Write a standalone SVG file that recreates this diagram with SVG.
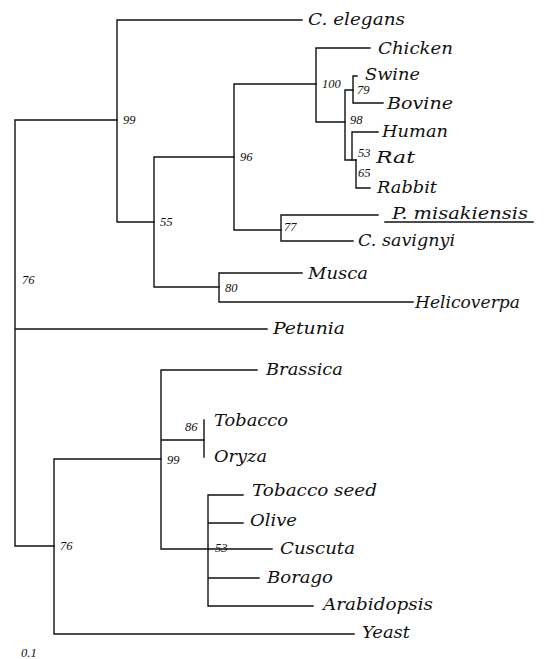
<svg xmlns="http://www.w3.org/2000/svg" width="546" height="659" viewBox="0 0 546 659">
<style>
.br{fill:none;stroke:#111;stroke-width:1.4;stroke-linecap:square}
.tx{font-family:"DejaVu Serif","Liberation Serif",serif;font-style:italic;font-size:17px;fill:#111}
.bs{font-family:"Liberation Serif","DejaVu Serif",serif;font-style:italic;font-size:12.5px;fill:#111}
</style>
<rect width="546" height="659" fill="#fff"/>
<g id="connectors" class="br">
<path d="M15,120V546M15,120H117M15,329H267M15,546H54"/>
<path d="M117,20V222M117,20H302M117,222H154"/>
<path d="M154,157V287M154,157H234M154,287H219"/>
<path d="M234,84V230M234,84H316M234,230H281"/>
<path d="M316,48V122M316,48H370M316,122H345"/>
<path d="M345,90V160M345,90H353M345,160H356"/>
<path d="M353,76V103M353,76H357M353,103H383"/>
<path d="M352,132V160M352,132H378"/>
<path d="M356,160V188M356,188H370"/>
<path d="M281,215V241M281,215H378M281,241H353"/>
<path d="M219,273V302M219,273H302M219,302H413"/>
<path d="M54,459V634M54,459H161M54,634H354"/>
<path d="M161,370V549M161,370H257M161,440H204M161,549H208"/>
<path d="M204,420V457"/>
<path d="M208,495V606M208,495H243M208,523H243M208,549H272M208,578H259M208,606H313"/>
</g>
<g id="c-elegans"><text class="tx" x="308" y="25" textLength="97" lengthAdjust="spacingAndGlyphs">C. elegans</text></g>
<g id="chicken"><text class="tx" x="378" y="54" textLength="75" lengthAdjust="spacingAndGlyphs">Chicken</text></g>
<g id="swine"><text class="tx" x="365" y="80" textLength="55" lengthAdjust="spacingAndGlyphs">Swine</text></g>
<g id="bovine"><text class="tx" x="387" y="109" textLength="66" lengthAdjust="spacingAndGlyphs">Bovine</text></g>
<g id="human"><text class="tx" x="382" y="137" textLength="66" lengthAdjust="spacingAndGlyphs">Human</text></g>
<g id="rat"><text class="tx" x="376" y="163" textLength="39" lengthAdjust="spacingAndGlyphs">Rat</text></g>
<g id="rabbit"><text class="tx" x="377" y="193" textLength="60" lengthAdjust="spacingAndGlyphs">Rabbit</text></g>
<g id="p-misakiensis"><text class="tx" x="392" y="219" textLength="136" lengthAdjust="spacingAndGlyphs">P. misakiensis</text><path class="br" d="M385,222H533"/></g>
<g id="c-savignyi"><text class="tx" x="358" y="246" textLength="97" lengthAdjust="spacingAndGlyphs">C. savignyi</text></g>
<g id="musca"><text class="tx" x="308" y="279" textLength="60" lengthAdjust="spacingAndGlyphs">Musca</text></g>
<g id="helicoverpa"><text class="tx" x="415" y="308" textLength="105" lengthAdjust="spacingAndGlyphs">Helicoverpa</text></g>
<g id="petunia"><text class="tx" x="273" y="334" textLength="72" lengthAdjust="spacingAndGlyphs">Petunia</text></g>
<g id="brassica"><text class="tx" x="266" y="375" textLength="77" lengthAdjust="spacingAndGlyphs">Brassica</text></g>
<g id="tobacco"><text class="tx" x="214" y="426" textLength="74" lengthAdjust="spacingAndGlyphs">Tobacco</text></g>
<g id="oryza"><text class="tx" x="214" y="462" textLength="53" lengthAdjust="spacingAndGlyphs">Oryza</text></g>
<g id="tobacco-seed"><text class="tx" x="252" y="496" textLength="125" lengthAdjust="spacingAndGlyphs">Tobacco seed</text></g>
<g id="olive"><text class="tx" x="250" y="526" textLength="47" lengthAdjust="spacingAndGlyphs">Olive</text></g>
<g id="cuscuta"><text class="tx" x="280" y="554" textLength="75" lengthAdjust="spacingAndGlyphs">Cuscuta</text></g>
<g id="borago"><text class="tx" x="267" y="583" textLength="66" lengthAdjust="spacingAndGlyphs">Borago</text></g>
<g id="arabidopsis"><text class="tx" x="323" y="610" textLength="110" lengthAdjust="spacingAndGlyphs">Arabidopsis</text></g>
<g id="yeast"><text class="tx" x="362" y="638" textLength="48" lengthAdjust="spacingAndGlyphs">Yeast</text></g>
<g id="bootstrap">
<text class="bs" x="123" y="124">99</text>
<text class="bs" x="240" y="161">96</text>
<text class="bs" x="160" y="226">55</text>
<text class="bs" x="322" y="88">100</text>
<text class="bs" x="357" y="94">79</text>
<text class="bs" x="350" y="124">98</text>
<text class="bs" x="358" y="157">53</text>
<text class="bs" x="358" y="177">65</text>
<text class="bs" x="284" y="231" font-size="10">77</text>
<text class="bs" x="22" y="284">76</text>
<text class="bs" x="225" y="292">80</text>
<text class="bs" x="185" y="431">86</text>
<text class="bs" x="167" y="464">99</text>
<text class="bs" x="60" y="550">76</text>
<text class="bs" x="215" y="552" font-size="10">53</text>
<text class="bs" x="21" y="657">0.1</text>
</g>
</svg>
